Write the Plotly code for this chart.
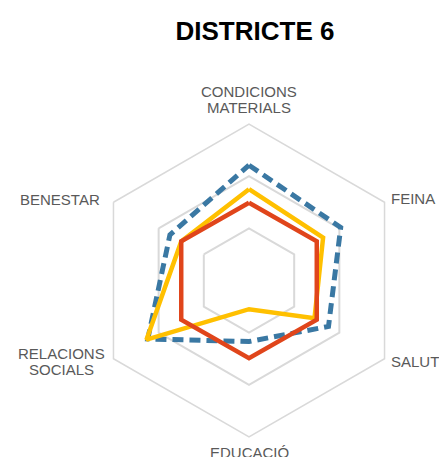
import plotly.graph_objects as go

# Dimensions of the wellbeing index, clockwise from the top
categories = ["CONDICIONS MATERIALS", "FEINA", "SALUT", "EDUCACIÓ", "RELACIONS SOCIALS", "BENESTAR"]

# Series values on a 0-3 radial scale
blue_values = [2.21, 2.03, 1.76, 1.17, 2.24, 1.75]
yellow_values = [1.75, 1.64, 1.45, 0.55, 2.27, 1.50]
red_values = [1.49, 1.50, 1.50, 1.49, 1.50, 1.50]

title_text = "DISTRICTE 6"

W, H = 439, 457
FONT = "Liberation Sans, Arial, sans-serif"
GRID = "#D9D9D9"
LABEL = "#595959"


def closed(vals):
    return list(vals) + [vals[0]]


theta = closed(categories)

fig = go.Figure()
fig.add_trace(go.Scatterpolar(
    r=closed(blue_values), theta=theta, mode="lines",
    line=dict(color="#3A78A3", width=5, dash="11px,6px"),
))
fig.add_trace(go.Scatterpolar(
    r=closed(yellow_values), theta=theta, mode="lines",
    line=dict(color="#FFC000", width=4.5),
))
fig.add_trace(go.Scatterpolar(
    r=closed(red_values), theta=theta, mode="lines",
    line=dict(color="#E0451B", width=4.5),
))


def px(x):
    return x / W


def py(y):
    return 1 - y / H


# category labels placed around the hexagon (one annotation per text line)
label_specs = [
    ("CONDICIONS", 248.5, 91, "center"),
    ("MATERIALS", 248.5, 107, "center"),
    ("FEINA", 389, 198.5, "left"),
    ("SALUT", 389, 361.7, "left"),
    ("EDUCACIÓ", 249, 452, "center"),
    ("RELACIONS", 61, 353.5, "center"),
    ("SOCIALS", 61, 369.5, "center"),
    ("BENESTAR", 60, 199.3, "center"),
]
annotations = [
    dict(text=t, x=px(x), y=py(y), xref="paper", yref="paper",
         xanchor=anc, yanchor="middle", showarrow=False,
         font=dict(family=FONT, size=15, color=LABEL))
    for t, x, y, anc in label_specs
]

cx, cy, R = 249, 280.5, 156.5
fig.update_layout(
    width=W, height=H,
    margin=dict(l=0, r=0, t=0, b=0),
    paper_bgcolor="white",
    showlegend=False,
    title=dict(text=title_text, x=px(255), y=py(31), xanchor="center", yanchor="middle",
               font=dict(family=FONT, size=26, color="black", weight="bold")),
    annotations=annotations,
    polar=dict(
        domain=dict(x=[px(cx - R), px(cx + R)], y=[py(cy + R), py(cy - R)]),
        bgcolor="white",
        gridshape="linear",
        radialaxis=dict(range=[0, 3], tickvals=[1, 2, 3], showticklabels=False,
                        ticks="", showline=False, gridcolor=GRID, gridwidth=1.5),
        angularaxis=dict(rotation=90, direction="clockwise", showgrid=False,
                         showticklabels=False, ticks="", showline=True,
                         linecolor=GRID, linewidth=1.5),
    ),
)

fig.write_html("out.html")
